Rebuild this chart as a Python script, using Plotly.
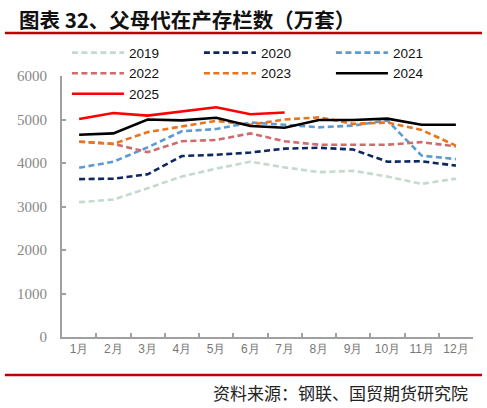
import plotly.graph_objects as go

months = ["1月", "2月", "3月", "4月", "5月", "6月", "7月", "8月", "9月", "10月", "11月", "12月"]

v2019 = [3100, 3160, 3420, 3690, 3870, 4030, 3900, 3790, 3820, 3690, 3520, 3640]
v2020 = [3630, 3640, 3740, 4160, 4190, 4240, 4330, 4350, 4310, 4030, 4040, 3940]
v2021 = [3890, 4030, 4360, 4730, 4780, 4930, 4880, 4820, 4860, 4980, 4170, 4090]
v2022 = [4490, 4440, 4250, 4500, 4530, 4680, 4500, 4420, 4420, 4420, 4480, 4380]
v2023 = [4490, 4440, 4710, 4840, 4970, 4880, 5000, 5050, 4900, 4930, 4760, 4400]
v2024 = [4650, 4680, 5000, 4980, 5040, 4850, 4810, 4990, 4990, 5020, 4880, 4880]
v2025 = [5010, 5150, 5090, 5190, 5280, 5120, 5160]

series = [
    ("2019", v2019, "#C3DACD", "6px,3.5px"),
    ("2020", v2020, "#0D2860", "6px,3.5px"),
    ("2021", v2021, "#5B9BD5", "6px,3.5px"),
    ("2022", v2022, "#CF6B6B", "6px,3.5px"),
    ("2023", v2023, "#E8741E", "6px,3.5px"),
    ("2024", v2024, "#000000", "solid"),
    ("2025", v2025, "#FF0000", "solid"),
]

fig = go.Figure()
for name, vals, color, dash in series:
    fig.add_trace(go.Scatter(
        x=months[:len(vals)], y=vals, name=name, mode="lines",
        line=dict(color=color, width=2.6, dash=dash),
    ))

fig.update_layout(
    width=487, height=408,
    margin=dict(l=62, r=14, t=76, b=71, autoexpand=False),
    paper_bgcolor="white", plot_bgcolor="white",
    font=dict(family="Liberation Sans, Arial", size=13, color="#222"),
    showlegend=True,
    legend=dict(
        orientation="h", x=0.012, y=1.148, xanchor="left", yanchor="top",
        entrywidth=65, entrywidthmode="pixels", itemwidth=52,
        font=dict(size=13.5, color="#111"), tracegroupgap=0,
        bgcolor="rgba(0,0,0,0)",
    ),
    xaxis=dict(
        type="category", range=[-0.5, 11.5],
        showline=True, linecolor="#A0A0A0", linewidth=2,
        ticks="inside", ticklen=4, tickcolor="#A0A0A0", tickwidth=1.5,
        tickson="boundaries", showgrid=False, tickangle=0,
        tickfont=dict(family="Liberation Sans, Arial", size=12, color="#777"),
    ),
    yaxis=dict(
        range=[0, 6000], dtick=1000,
        showline=True, linecolor="#A0A0A0", linewidth=2,
        ticks="inside", ticklen=4, tickcolor="#A0A0A0", tickwidth=1.5,
        showgrid=False, zeroline=False, ticklabelstandoff=10,
        tickfont=dict(family="Liberation Serif, Times New Roman", size=15, color="#888"),
    ),
    shapes=[
        dict(type="line", xref="paper", yref="paper", x0=-0.139, x1=1.022, y0=1.165, y1=1.165,
             line=dict(color="#C00000", width=2.5)),
        dict(type="line", xref="paper", yref="paper", x0=-0.139, x1=1.022, y0=-0.146, y1=-0.146,
             line=dict(color="#C00000", width=2.5)),
    ],
    annotations=[
        dict(text="<b>图表 32、父母代在产存栏数（万套）</b>", xref="paper", yref="paper",
             x=-0.11, y=1.218, xanchor="left", yanchor="middle", showarrow=False,
             font=dict(family="Noto Sans CJK SC", size=20.5, color="#111")),
        dict(text="资料来源：钢联、国贸期货研究院", xref="paper", yref="paper",
             x=0.993, y=-0.211, xanchor="right", yanchor="middle", showarrow=False,
             font=dict(family="Noto Sans CJK SC", size=17, color="#222")),
    ],
)

# page body has an 8px default margin; drop it so the figure sits at the corner
fig.write_html("out.html", config={"displayModeBar": False},
               post_script="document.body.style.margin='0';")
